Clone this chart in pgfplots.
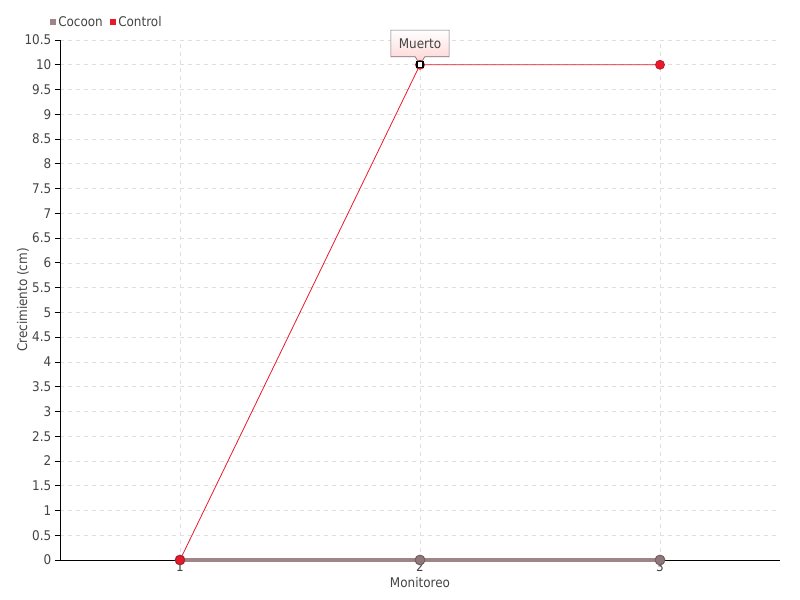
\documentclass[border=0pt]{standalone}
\usepackage{pgfplots}
\pgfplotsset{compat=1.18}
\usepackage{fontspec}
\setmainfont{DejaVu Sans Condensed}
\usetikzlibrary{shapes.callouts}
\definecolor{cocoon}{HTML}{A08487}
\definecolor{cocoonedge}{HTML}{735E61}
\definecolor{control}{HTML}{E8192C}
\definecolor{txt}{HTML}{444444}
\begin{document}
\begin{tikzpicture}[x=1pt,y=1pt]
\path[use as bounding box] (0,0) rectangle (600,450);
\begin{axis}[
  at={(45pt,30pt)}, anchor=south west,
  scale only axis, width=540pt, height=390pt,
  xmin=0.5, xmax=3.5, ymin=0, ymax=10.5,
  axis lines*=left,
  axis line style={black, line width=0.6pt, -},
  xtick={1,2,3},
  ytick={0,0.5,...,10.5},
  tick align=outside,
  major tick length=4pt,
  tick style={black, line width=0.6pt},
  grid=major,
  grid style={dashed, gray!25, line width=0.5pt},
  /pgf/number format/assume math mode=true,
  /pgf/number format/.cd, fixed, precision=1, /pgfplots/.cd,
  yticklabel style={font=\fontsize{10}{12}\selectfont, text=txt, xshift=1pt},
  xticklabel style={font=\fontsize{10}{12}\selectfont, text=txt, yshift=6pt},
  xlabel={Monitoreo}, ylabel={Crecimiento (cm)},
  label style={font=\fontsize{10}{12}\selectfont, text=txt},
  xlabel style={yshift=3pt},
  ylabel style={yshift=-10pt},
  clip=false,
]
\addplot[cocoon, line width=2.8pt, mark=*, mark size=3.7pt,
  mark options={fill=cocoon!90!black, draw=cocoonedge, line width=0.7pt}]
  coordinates {(1,0) (2,0) (3,0)};
\addplot[control, line width=0.6pt, mark=*, mark size=3.4pt,
  mark options={fill=control, draw=control!80!black, line width=0.5pt}]
  coordinates {(1,0) (2,10) (3,10)};
\addplot[black, only marks, mark=square*, mark size=2.3pt,
  mark options={fill=white, draw=black, line width=1pt}]
  coordinates {(2,10)};
\node[rectangle callout, draw=gray!90!black, line width=0.5pt,
  top color=white, bottom color=red!18, inner xsep=6pt, inner ysep=4.5pt,
  minimum height=20pt, font=\fontsize{10}{12}\selectfont, text=txt,
  callout absolute pointer={(axis cs:2,10)}]
  at ([yshift=16pt]axis cs:2,10) {Muerto};
\end{axis}
% legend
\fill[cocoon] (37.5,431.5) rectangle (42,436);
\node[anchor=west, inner sep=0pt, font=\fontsize{10}{12}\selectfont, text=txt] at (43.5,433.7) {Cocoon};
\fill[control] (82.5,431.5) rectangle (87,436);
\node[anchor=west, inner sep=0pt, font=\fontsize{10}{12}\selectfont, text=txt] at (88.5,433.7) {Control};
\end{tikzpicture}
\end{document}
